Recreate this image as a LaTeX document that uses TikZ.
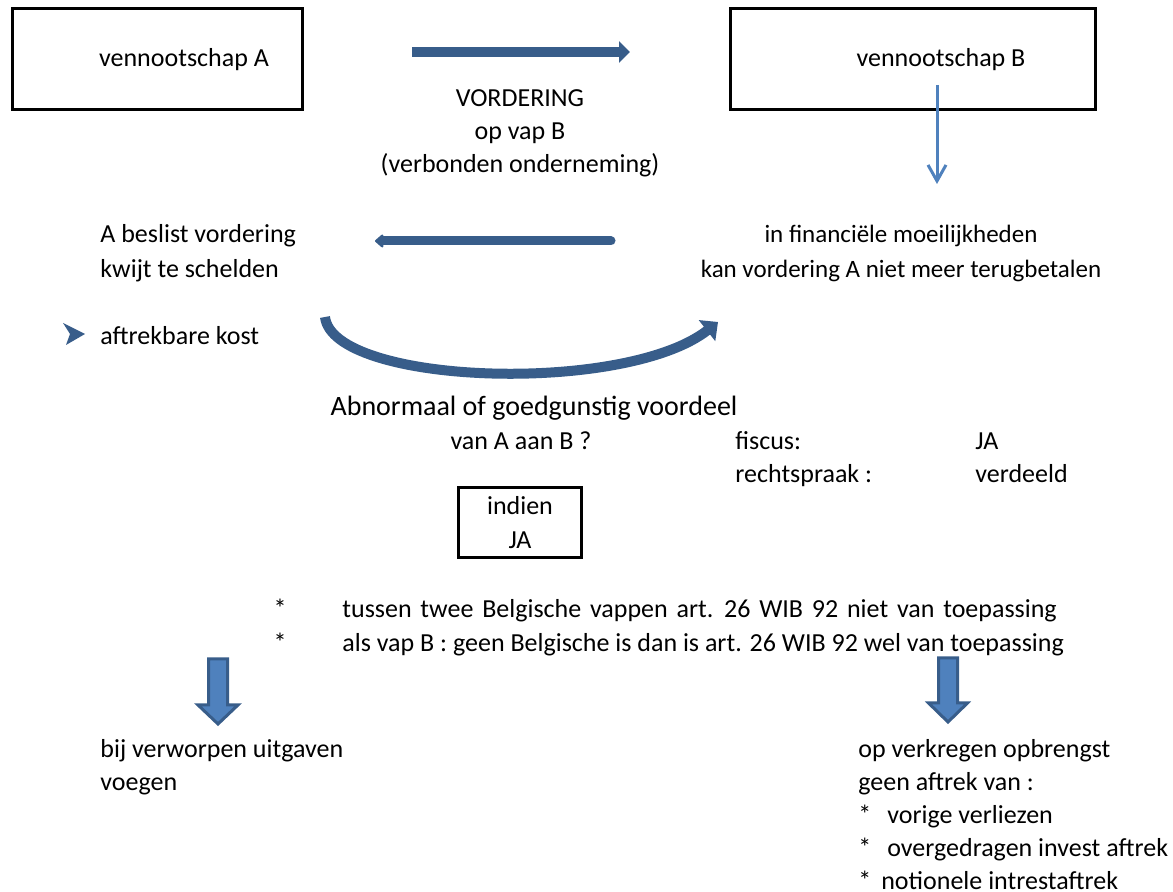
\documentclass[tikz,border=0pt]{standalone}
\usepackage{fontspec}
\setmainfont{Carlito}
\usetikzlibrary{arrows.meta,positioning}
\definecolor{darkblue}{HTML}{385D8A}
\definecolor{lightblue}{HTML}{4F81BD}

\begin{document}
\begin{tikzpicture}[x=0.5pt,y=-0.5pt,font=\fontsize{13}{16.5}\selectfont,
        box/.style = {draw, line width=1.5pt, minimum width=#1, minimum height=50.5pt},
        txt/.style = {inner sep=0pt, align=left, anchor=base west},
        ctxt/.style = {inner sep=0pt, align=center, anchor=base},
        wide/.style = {font=\fontsize{13}{17.5}\selectfont},
        fat/.style = {draw=darkblue, line width=5pt},
        blockarr/.style = {draw=darkblue, fill=lightblue, line width=1.5pt, line join=miter}]
        \useasboundingbox (0,0) rectangle (1173,892);
        % bovenste rij
        \node[box=145pt] (1) at (157,59.5) {\hspace*{27pt}vennootschap A};
        \node[box=182.5pt] (2) at (912.5,59.5) {\hspace*{28.5pt}vennootschap B};
        \node[ctxt] (3) at (520,172.5) {VORDERING\\op vap B\\(verbonden onderneming)};
        \coordinate (r1) at (412,52);
        \coordinate (r2) at (630,52);
        \draw[fat, -{Triangle[length=5.5pt,width=10.5pt]}] (r1) -- (r2);
        \coordinate (b1) at (937,85);
        \coordinate (b2) at (937,184);
        \draw[lightblue, line width=1.5pt, -{Straight Barb[length=8pt,width=9pt]}] (b1) -- (b2);
        % midden
        \node[txt, wide] (4) at (100,277.5) {A beslist vordering\\kwijt te schelden};
        \node[ctxt, font=\fontsize{12.5}{17.5}\selectfont] (5) at (901,277.5) {in financiële moeilijkheden\\kan vordering A niet meer terugbetalen};
        \coordinate (l1) at (611,241);
        \coordinate (l2) at (375,241);
        \draw[fat, line width=4.5pt, line cap=round, -{Triangle[length=4.5pt,width=7.5pt,round]}] (l1) -- (l2);
        \coordinate (k) at (63,323);
        \fill[darkblue] (k) -- ++(22,11) -- ++(-19,11) -- ++(4,-11) -- cycle;
        \node[txt] (6) at (100,344.5) {aftrekbare kost};
        \coordinate (c1) at (325,317);
        \coordinate (c2) at (718,322);
        \draw[fat, -{Triangle[length=7pt,width=13pt]}] (c1) .. controls (333,385) and (625,395) .. (c2);
        \node[ctxt, font=\fontsize{13}{17}\selectfont] (7) at (534,449.5) {\fontsize{14}{17}\selectfont Abnormaal of goedgunstig voordeel\\van A aan B ?\hspace*{13pt}};
        \node[txt] (8) at (735,482.5) {fiscus:\\rechtspraak :};
        \node[txt] (9) at (975,482.5) {JA\\verdeeld};
        \node[draw, line width=1.5pt, inner sep=1pt, minimum width=61.5pt, minimum height=35pt, align=center,
              font=\fontsize{13}{17}\selectfont] (10) at (520,523) {indien\\JA};
        % onderste deel
        \node[ctxt, font=\fontsize{13}{17}\selectfont] (11) at (280,651.5) {*\\*};
        \node[txt, font=\fontsize{13}{17}\selectfont] (12) at (342,651.5) {{\spaceskip=4.4pt\relax tussen twee Belgische vappen art. 26 WIB 92 niet van toepassing}\\
              als vap B : geen Belgische is dan is art. 26 WIB 92 wel van toepassing};
        \coordinate (d1) at (218,659);
        \coordinate (d2) at (948,658);
        \filldraw[blockarr] (d1) ++(-9.5,0) -- ++(19,0) -- ++(0,46) -- ++(10.5,0) -- ++(-20,19) -- ++(-20,-19) -- ++(10.5,0) -- cycle;
        \filldraw[blockarr] (d2) ++(-9.5,0) -- ++(19,0) -- ++(0,45) -- ++(10,0) -- ++(-19.5,19) -- ++(-19.5,-19) -- ++(10,0) -- cycle;
        \node[txt] (13) at (100,790.5) {bij verworpen uitgaven\\voegen};
        \node[txt] (14) at (858,889.5) {op verkregen opbrengst\\geen aftrek van :\\*\hspace{8pt}vorige verliezen\\
              *\hspace{8pt}overgedragen invest aftrek\\*\hspace{5pt}notionele intrestaftrek};
\end{tikzpicture}
\end{document}
